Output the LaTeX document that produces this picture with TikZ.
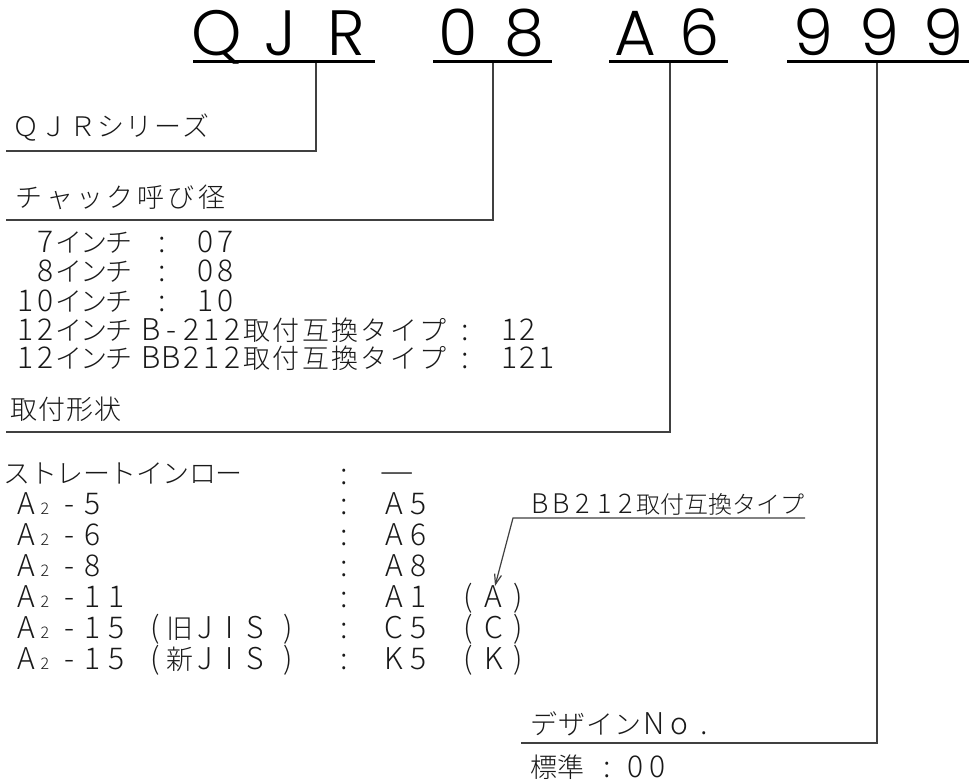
\documentclass[tikz,border=0pt]{standalone}
\usepackage{fontspec}
\usetikzlibrary{arrows.meta}
\IfFontExistsTF{Noto Sans CJK JP Light}{\newfontfamily\jp{Noto Sans CJK JP Light}}{%
  \IfFontExistsTF{Noto Sans CJK JP DemiLight}{\newfontfamily\jp{Noto Sans CJK JP DemiLight}}{%
    \newfontfamily\jp{Noto Sans CJK JP}}}
\IfFontExistsTF{Poppins Light}{\newfontfamily\ttl{Poppins Light}}{\newfontfamily\ttl{Poppins}}
\makeatletter
\def\pt@end{\pt@end}
\newcommand\pitched[2]{\def\pt@w{#1}\pt@loop#2\pt@end}
\def\pt@loop#1{\ifx#1\pt@end\else\makebox[\pt@w][c]{#1}\expandafter\pt@loop\fi}
\makeatother
\newcommand\hsz{\fontsize{30}{30}\selectfont}
\newcommand\fsz{\fontsize{27}{27}\selectfont}
\newcommand\hsza{\fontsize{27}{27}\selectfont}
\newcommand\fsza{\fontsize{24}{24}\selectfont}
\newcommand\hwp[2]{{\hsz\pitched{#1}{#2}}}
\newcommand\fwp[2]{{\fsz\pitched{#1}{#2}}}
\tikzset{
  jt/.style={anchor=base west, inner sep=0pt, outer sep=0pt, font=\jp\fsz, text=black!90},
  jc/.style={anchor=base, inner sep=0pt, outer sep=0pt, font=\jp\hsz, text=black!90},
  sub/.style={anchor=base, inner sep=0pt, outer sep=0pt, font=\jp\fontsize{16}{16}\selectfont, text=black!90},
  tc/.style={anchor=base, inner sep=0pt, outer sep=0pt, font=\ttl\fontsize{64}{64}\selectfont},
  lead/.style={line width=1.2pt, draw=black!75},
  uline/.style={line width=3.5pt, draw=black},
}
\begin{document}
\begin{tikzpicture}[x=1pt,y=-1pt]
\useasboundingbox (0,0) rectangle (969,782);
\fill[white] (0,0) rectangle (969,782);

% title characters
\foreach \c/\x [count=\i] in {Q/217,J/280,R/346,0/458,8/524,A/635,6/700,9/813,9/879,9/943}
  \node[tc] (t\i) at (\x,55) {\c};

% title underlines
\coordinate (u1a) at (193,61.5); \coordinate (u1b) at (375,61.5);
\coordinate (u2a) at (433,61.5); \coordinate (u2b) at (552,61.5);
\coordinate (u3a) at (609,61.5); \coordinate (u3b) at (728,61.5);
\coordinate (u4a) at (787,61.5); \coordinate (u4b) at (969,61.5);
\draw[uline] (u1a) -- (u1b);
\draw[uline] (u2a) -- (u2b);
\draw[uline] (u3a) -- (u3b);
\draw[uline] (u4a) -- (u4b);

% leaders
\coordinate (d1) at (316,63); \coordinate (h1) at (6,151);
\coordinate (d2) at (493,63); \coordinate (h2) at (6,220);
\coordinate (d3) at (670,63); \coordinate (h3) at (6,432);
\coordinate (d4) at (877,63); \coordinate (h4) at (521,743);
\draw[lead] (d1) |- (h1);
\draw[lead] (d2) |- (h2);
\draw[lead] (d3) |- (h3);
\draw[lead] (d4) |- (h4);

% section labels
\node[jt] (lab1) at (12,136) {\fwp{28.3pt}{ＱＪＲシリーズ}};
\node[jt] (lab2) at (14,207) {\fwp{30.4pt}{チャック呼び径}};
\node[jt] (lab3) at (10,419) {\fwp{28pt}{取付形状}};

% chuck size list
\node[jt] (s1) at (35.5,252.5) {\hwp{20.5pt}{7}\fwp{25pt}{インチ}};
\node[jc] (c1) at (162,252.5) {:};
\node[jt] (v1) at (196,252.5) {\hwp{20pt}{07}};
\node[jt] (s2) at (35.5,281.5) {\hwp{20.5pt}{8}\fwp{25pt}{インチ}};
\node[jc] (c2) at (162,281.5) {:};
\node[jt] (v2) at (196,281.5) {\hwp{20pt}{08}};
\node[jt] (s3) at (15,311) {\hwp{20.5pt}{10}\fwp{25pt}{インチ}};
\node[jc] (c3) at (162,311) {:};
\node[jt] (v3) at (196,311) {\hwp{20pt}{10}};
\node[jt] (s4) at (15,340) {\hwp{20.5pt}{12}\fwp{25pt}{インチ}};
\node[jt] (s4b) at (140.5,340) {\hwp{20.4pt}{B-212}\fwp{29.3pt}{取付互換タイプ}};
\node[jc] (c4) at (465,340) {:};
\node[jt] (v4) at (500,340) {\hwp{18.5pt}{12}};
\node[jt] (s5) at (15,368.5) {\hwp{20.5pt}{12}\fwp{25pt}{インチ}};
\node[jt] (s5b) at (140.5,368.5) {\hwp{20.4pt}{BB212}\fwp{29.3pt}{取付互換タイプ}};
\node[jc] (c5) at (465,368.5) {:};
\node[jt] (v5) at (500,368.5) {\hwp{18.5pt}{121}};

% mounting list
\node[jt] (m1) at (4,483) {\fwp{26.5pt}{ストレートインロー}};
\node[jc] (mc1) at (344,484) {:};
\node[jc] (mv1) at (397,484) {\scalebox{2.2}[1]{−}};

\node[jc] (ma2) at (26,514.5) {A};
\node[sub] (ms2) at (45,514.5) {2};
\node[jt] (mr2) at (57,514.5) {\hwp{24pt}{-5}};
\node[jc] (mc2) at (344,514.5) {:};
\node[jt] (mv2) at (382,514.5) {\hwp{24.5pt}{A5}};

\node[jc] (ma3) at (26,545.5) {A};
\node[sub] (ms3) at (45,545.5) {2};
\node[jt] (mr3) at (57,545.5) {\hwp{24pt}{-6}};
\node[jc] (mc3) at (344,545.5) {:};
\node[jt] (mv3) at (382,545.5) {\hwp{24.5pt}{A6}};

\node[jc] (ma4) at (26,576.5) {A};
\node[sub] (ms4) at (45,576.5) {2};
\node[jt] (mr4) at (57,576.5) {\hwp{24pt}{-8}};
\node[jc] (mc4) at (344,576.5) {:};
\node[jt] (mv4) at (382,576.5) {\hwp{24.5pt}{A8}};

\node[jc] (ma5) at (26,607.5) {A};
\node[sub] (ms5) at (45,607.5) {2};
\node[jt] (mr5) at (57,607.5) {\hwp{24pt}{-11}};
\node[jc] (mc5) at (344,607.5) {:};
\node[jt] (mv5) at (382,607.5) {\hwp{24.5pt}{A1}};
\node[jt] (mp5) at (456,607.5) {\hwp{25pt}{(A)}};

\node[jc] (ma6) at (26,638.5) {A};
\node[sub] (ms6) at (45,638.5) {2};
\node[jt] (mr6) at (57,638.5) {\hwp{24pt}{-15}};
\node[jc] (mo6) at (155,638.5) {(};
\node[jt] (mj6) at (167.5,638.5) {\fwp{25pt}{旧}\hwp{25pt}{JIS}};
\node[jc] (mq6) at (288,638.5) {)};
\node[jc] (mc6) at (344,638.5) {:};
\node[jt] (mv6) at (382,638.5) {\hwp{24.5pt}{C5}};
\node[jt] (mp6) at (456,638.5) {\hwp{25pt}{(C)}};

\node[jc] (ma7) at (26,669.5) {A};
\node[sub] (ms7) at (45,669.5) {2};
\node[jt] (mr7) at (57,669.5) {\hwp{24pt}{-15}};
\node[jc] (mo7) at (155,669.5) {(};
\node[jt] (mj7) at (167.5,669.5) {\fwp{25pt}{新}\hwp{25pt}{JIS}};
\node[jc] (mq7) at (288,669.5) {)};
\node[jc] (mc7) at (344,669.5) {:};
\node[jt] (mv7) at (382,669.5) {\hwp{24.5pt}{K5}};
\node[jt] (mp7) at (456,669.5) {\hwp{25pt}{(K)}};

% annotation
\node[jt] (ann) at (529,513) {{\hsza\pitched{21.5pt}{BB212}}{\fsza\pitched{24pt}{取付互換タイプ}}};
\coordinate (annR) at (805,518);
\coordinate (annL) at (513,518);
\coordinate (tip) at (495,586);
\draw[lead, -{Straight Barb[length=10pt,width=7pt]}] (annR) -- (annL) -- (tip);

% design number
\node[jt] (dn) at (530,734) {\fwp{28pt}{デザイン}\hwp{25pt}{No.}};
\node[jt] (st) at (530,777) {\fwp{27pt}{標準}};
\node[jc] (stc) at (607,777) {:};
\node[jt] (stv) at (625,777) {\hwp{22pt}{00}};
\end{tikzpicture}
\end{document}
